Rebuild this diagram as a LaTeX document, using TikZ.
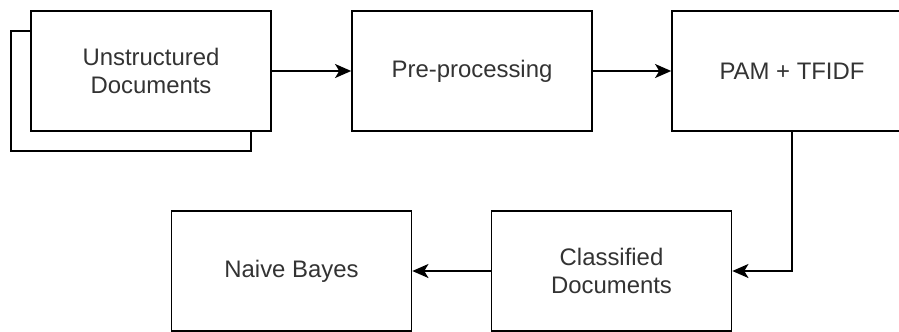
\documentclass[tikz,border=0pt]{standalone}
\usepackage{fontspec}
\setmainfont{Liberation Sans}
\usetikzlibrary{arrows.meta}

\tikzset{
    stage/.style={draw, line width=1.1pt, fill=white, minimum width=6cm, minimum height=3cm,
        inner sep=0pt, align=center, text=black!80, font=\fontsize{17}{19.5}\selectfont},
    flow/.style={line width=1.1pt, -{Stealth[length=11.5pt, width=10pt, inset=3pt]}}
}

\begin{document}
\begin{tikzpicture}[x=0.025cm, y=-0.025cm]
    \useasboundingbox (0,0) rectangle (899,331);
    \clip (0,0) rectangle (899,331);
    \node[stage] (back) at (131,91) {};
    \node[stage] (docs) at (151,71) {Unstructured\\Documents};
    \node[stage] (prep) at (472,71) {Pre-processing};
    \node[stage] (pam) at (792,71) {PAM + TFIDF};
    \node[stage] (cls) at (611.5,271) {Classified\\Documents};
    \node[stage] (nb) at (291.5,271) {Naive Bayes};
    \draw[flow] (docs) -- (prep);
    \draw[flow] (prep) -- (pam);
    \draw[flow] (pam) |- (cls);
    \draw[flow] (cls) -- (nb);
\end{tikzpicture}
\end{document}
